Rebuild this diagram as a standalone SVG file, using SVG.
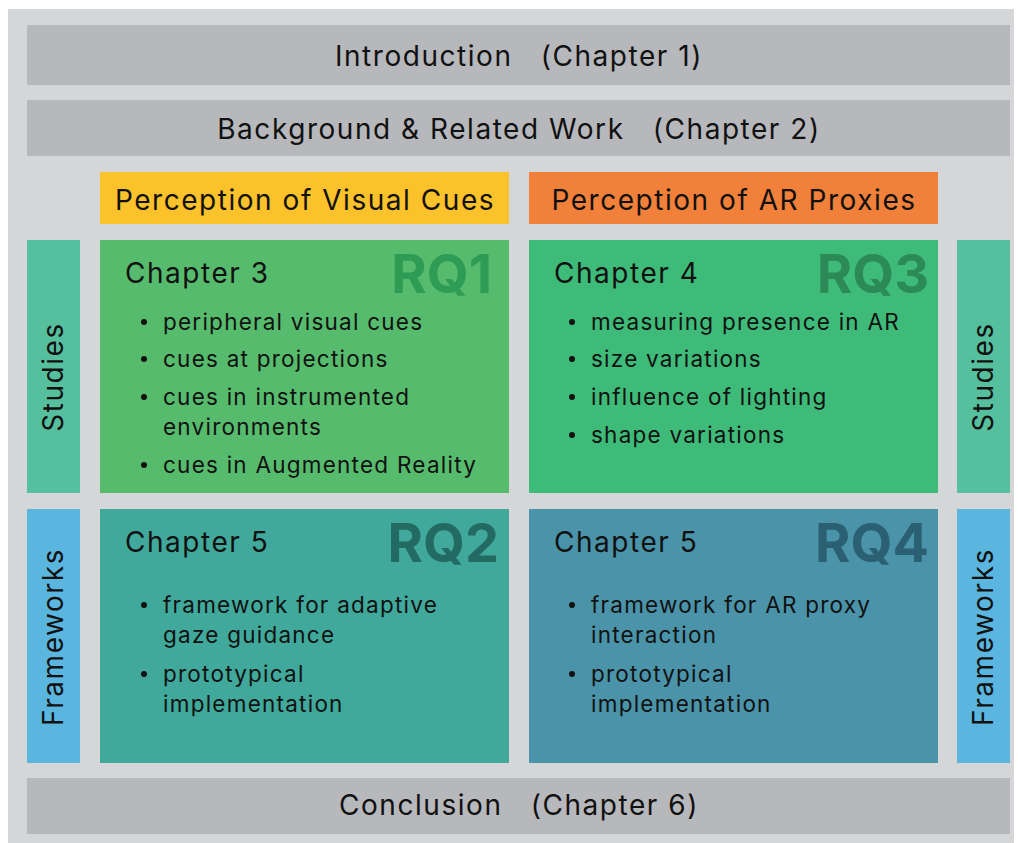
<svg xmlns="http://www.w3.org/2000/svg" width="1018" height="843" viewBox="0 0 1018 843">
  <style>
    text { font-family: Inter, "Noto Sans", "Liberation Sans", sans-serif; fill: #111; letter-spacing: 0.055em; }
    .bar { fill: #b7b8bb; }
    .title { font-size: 28px; text-anchor: middle; }
    .head { font-size: 28px; }
    .item { font-size: 22.5px; }
    .rq { font-size: 54px; font-weight: 700; text-anchor: end; letter-spacing: 0; }
    .side { font-size: 28px; text-anchor: middle; }
    .dot { fill: #111; }
  </style>

  <!-- page background -->
  <rect x="8" y="9" width="1006" height="834" fill="#d5d6d8"/>

  <g id="introduction">
    <rect class="bar" x="27" y="25" width="983" height="60"/>
    <text class="title" x="519" y="66" xml:space="preserve">Introduction   (Chapter 1)</text>
  </g>

  <g id="background">
    <rect class="bar" x="27" y="100" width="983" height="56"/>
    <text class="title" x="519" y="139" xml:space="preserve">Background &amp; Related Work   (Chapter 2)</text>
  </g>

  <g id="visual-cues-header">
    <rect x="100" y="172" width="409" height="52" fill="#fcc22b"/>
    <text class="title" x="305" y="210">Perception of Visual Cues</text>
  </g>

  <g id="ar-proxies-header">
    <rect x="529" y="172" width="409" height="52" fill="#f1813a"/>
    <text class="title" x="734" y="210">Perception of AR Proxies</text>
  </g>

  <g id="studies-left">
    <rect x="27" y="240" width="53" height="253" fill="#56c09e"/>
    <text class="side" transform="translate(63 377) rotate(-90)">Studies</text>
  </g>

  <g id="studies-right">
    <rect x="957" y="240" width="53" height="253" fill="#56c09e"/>
    <text class="side" transform="translate(993 377) rotate(-90)">Studies</text>
  </g>

  <g id="frameworks-left">
    <rect x="27" y="509" width="53" height="254" fill="#5ab5df"/>
    <text class="side" transform="translate(63 637) rotate(-90)">Frameworks</text>
  </g>

  <g id="frameworks-right">
    <rect x="957" y="509" width="53" height="254" fill="#5ab5df"/>
    <text class="side" transform="translate(993 637) rotate(-90)">Frameworks</text>
  </g>

  <g id="rq1">
    <rect x="100" y="240" width="409" height="253" fill="#57bb6d"/>
    <text class="rq" x="492" y="293" style="fill:#2f9c55">RQ1</text>
    <text class="head" x="125" y="283">Chapter 3</text>
    <circle class="dot" cx="144" cy="322" r="3"/>
    <text class="item" x="163" y="330">peripheral visual cues</text>
    <circle class="dot" cx="144" cy="359" r="3"/>
    <text class="item" x="163" y="367">cues at projections</text>
    <circle class="dot" cx="144" cy="397" r="3"/>
    <text class="item" x="163" y="405">cues in instrumented</text>
    <text class="item" x="163" y="435">environments</text>
    <circle class="dot" cx="144" cy="465" r="3"/>
    <text class="item" x="163" y="473">cues in Augmented Reality</text>
  </g>

  <g id="rq3">
    <rect x="529" y="240" width="409" height="253" fill="#3fbb79"/>
    <text class="rq" x="929" y="293" style="fill:#2b8a55">RQ3</text>
    <text class="head" x="554" y="283">Chapter 4</text>
    <circle class="dot" cx="572" cy="322" r="3"/>
    <text class="item" x="591" y="330">measuring presence in AR</text>
    <circle class="dot" cx="572" cy="359" r="3"/>
    <text class="item" x="591" y="367">size variations</text>
    <circle class="dot" cx="572" cy="397" r="3"/>
    <text class="item" x="591" y="405">influence of lighting</text>
    <circle class="dot" cx="572" cy="435" r="3"/>
    <text class="item" x="591" y="443">shape variations</text>
  </g>

  <g id="rq2">
    <rect x="100" y="509" width="409" height="254" fill="#40a99b"/>
    <text class="rq" x="499" y="562" style="fill:#236b62">RQ2</text>
    <text class="head" x="125" y="552">Chapter 5</text>
    <circle class="dot" cx="144" cy="605" r="3"/>
    <text class="item" x="163" y="613">framework for adaptive</text>
    <text class="item" x="163" y="643">gaze guidance</text>
    <circle class="dot" cx="144" cy="674" r="3"/>
    <text class="item" x="163" y="682">prototypical</text>
    <text class="item" x="163" y="712">implementation</text>
  </g>

  <g id="rq4">
    <rect x="529" y="509" width="409" height="254" fill="#4a93a9"/>
    <text class="rq" x="929" y="562" style="fill:#2b5f72">RQ4</text>
    <text class="head" x="554" y="552">Chapter 5</text>
    <circle class="dot" cx="572" cy="605" r="3"/>
    <text class="item" x="591" y="613">framework for AR proxy</text>
    <text class="item" x="591" y="643">interaction</text>
    <circle class="dot" cx="572" cy="674" r="3"/>
    <text class="item" x="591" y="682">prototypical</text>
    <text class="item" x="591" y="712">implementation</text>
  </g>

  <g id="conclusion">
    <rect class="bar" x="27" y="778" width="983" height="56"/>
    <text class="title" x="519" y="815" xml:space="preserve">Conclusion   (Chapter 6)</text>
  </g>

  <!-- no connectors in this layout -->
  <g id="connectors"/>
</svg>
